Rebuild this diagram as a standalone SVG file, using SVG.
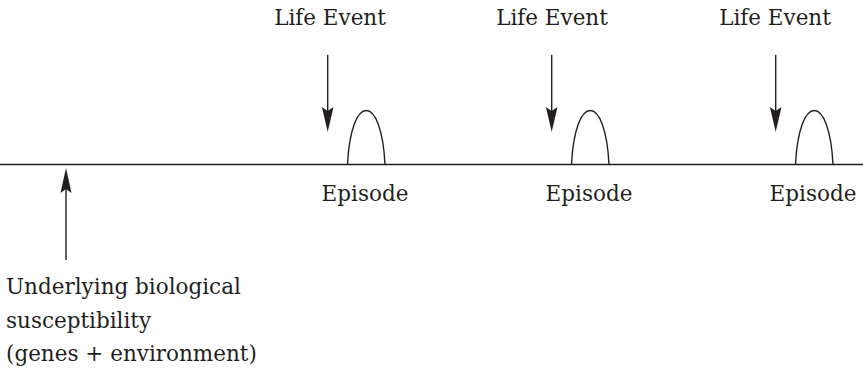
<svg xmlns="http://www.w3.org/2000/svg" width="863" height="377" viewBox="0 0 863 377">
  <style>
    .lbl { font-family: "DejaVu Serif", "Liberation Serif", serif; font-size: 21.5px; fill: #231f20; }
    .mid { text-anchor: middle; }
    .ln { stroke: #231f20; stroke-width: 1.4; fill: none; }
  </style>
  <defs>
    <path id="hump" d="M0,0 C3.5,-72 34,-72 37.5,0" />
  </defs>

  <!-- time axis -->
  <g id="timeline">
    <line class="ln" x1="0" y1="164.5" x2="863" y2="164.5"/>
  </g>

  <!-- episodes -->
  <g id="episode1">
    <use href="#hump" class="ln" x="347.5" y="164.5"/>
    <text class="lbl mid" x="365" y="201">Episode</text>
  </g>
  <g id="episode2">
    <use href="#hump" class="ln" x="571.5" y="164.5"/>
    <text class="lbl mid" x="589" y="201">Episode</text>
  </g>
  <g id="episode3">
    <use href="#hump" class="ln" x="795.5" y="164.5"/>
    <text class="lbl mid" x="813" y="201">Episode</text>
  </g>

  <!-- life events -->
  <g id="event1">
    <text class="lbl mid" x="330" y="25">Life Event</text>
  </g>
  <g id="event2">
    <text class="lbl mid" x="552" y="25">Life Event</text>
  </g>
  <g id="event3">
    <text class="lbl mid" x="775" y="25">Life Event</text>
  </g>

  <!-- susceptibility -->
  <g id="susceptibility">
    <text class="lbl" x="6" y="294">Underlying biological</text>
    <text class="lbl" x="6" y="327.5">susceptibility</text>
    <text class="lbl" x="6" y="361">(genes + environment)</text>
  </g>

  <!-- connectors -->
  <g id="connectors" fill="#231f20">
    <line class="ln" x1="327.7" y1="55" x2="327.7" y2="112"/>
    <path d="M321.9,107 L327.7,132 L333.5,107 L327.7,111 Z"/>
    <line class="ln" x1="551.7" y1="55" x2="551.7" y2="112"/>
    <path d="M545.9,107 L551.7,132 L557.5,107 L551.7,111 Z"/>
    <line class="ln" x1="775.7" y1="55" x2="775.7" y2="112"/>
    <path d="M769.9,107 L775.7,132 L781.5,107 L775.7,111 Z"/>
    <line class="ln" x1="66" y1="260" x2="66" y2="188"/>
    <path d="M60.5,193 L66,168 L71.5,193 L66,189 Z"/>
  </g>
</svg>
